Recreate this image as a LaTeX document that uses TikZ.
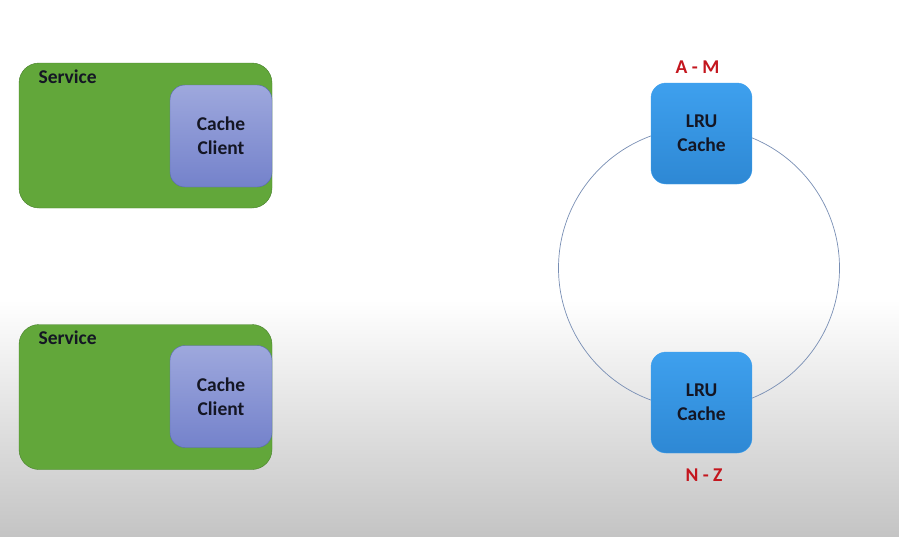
\documentclass[tikz,border=0pt]{standalone}
\usepackage{fontspec}
\setmainfont{Carlito}
\definecolor{svcgreen}{RGB}{98,167,58}
\definecolor{svcedge}{RGB}{72,128,44}
\definecolor{clienttop}{RGB}{158,168,221}
\definecolor{clientbot}{RGB}{116,130,203}
\definecolor{clientedge}{RGB}{88,104,178}
\definecolor{lrutop}{RGB}{62,160,238}
\definecolor{lrubot}{RGB}{46,136,212}
\definecolor{ringline}{RGB}{120,142,180}
\definecolor{rangered}{RGB}{196,22,30}
\definecolor{bggray}{RGB}{196,196,196}
\definecolor{inktext}{RGB}{20,22,36}

\begin{document}
\begin{tikzpicture}[x=1pt, y=-1pt,
  svc/.style={draw=svcedge, fill=svcgreen, rounded corners=20pt, minimum width=253pt, minimum height=145pt, inner sep=0pt},
  client/.style={draw=clientedge, top color=clienttop, bottom color=clientbot, rounded corners=15pt, minimum width=102pt, minimum height=102pt, align=center, inner sep=0pt, text=inktext, font=\bfseries\fontsize{19.5}{24}\selectfont},
  lru/.style={draw=lrutop, top color=lrutop, bottom color=lrubot, rounded corners=15pt, minimum width=101pt, minimum height=101pt, align=center, inner sep=0pt, text=inktext, font=\bfseries\fontsize{19.5}{24}\selectfont},
  lbl/.style={text=inktext, font=\bfseries\fontsize{19.5}{24}\selectfont},
  keyrange/.style={text=rangered, font=\bfseries\fontsize{19.5}{24}\selectfont}]

\useasboundingbox (0,0) rectangle (899,536);
\fill[white] (0,0) rectangle (899,300);
\shade[top color=white, bottom color=bggray] (0,300) rectangle (899,536);

\draw(145.5,135.5) node[svc] (S1) {};
\draw(221,136) node[client] (C1) {Cache\\Client};
\draw(35,77) node[lbl, anchor=west] (T1) {Service};

\draw(145.5,397) node[svc] (S2) {};
\draw(221,396.5) node[client] (C2) {Cache\\Client};
\draw(35,338) node[lbl, anchor=west] (T2) {Service};

\draw(699,268) node[circle, draw=ringline, line width=0.7pt, minimum size=281pt, inner sep=0pt] (ring) {};

\draw(701.5,133.5) node[lru] (L1) {LRU\\Cache};
\draw(701.5,402.5) node[lru] (L2) {LRU\\Cache};
\draw(697.5,67) node[keyrange] (R1) {A - M};
\draw(704,475) node[keyrange] (R2) {N - Z};

\end{tikzpicture}
\end{document}
